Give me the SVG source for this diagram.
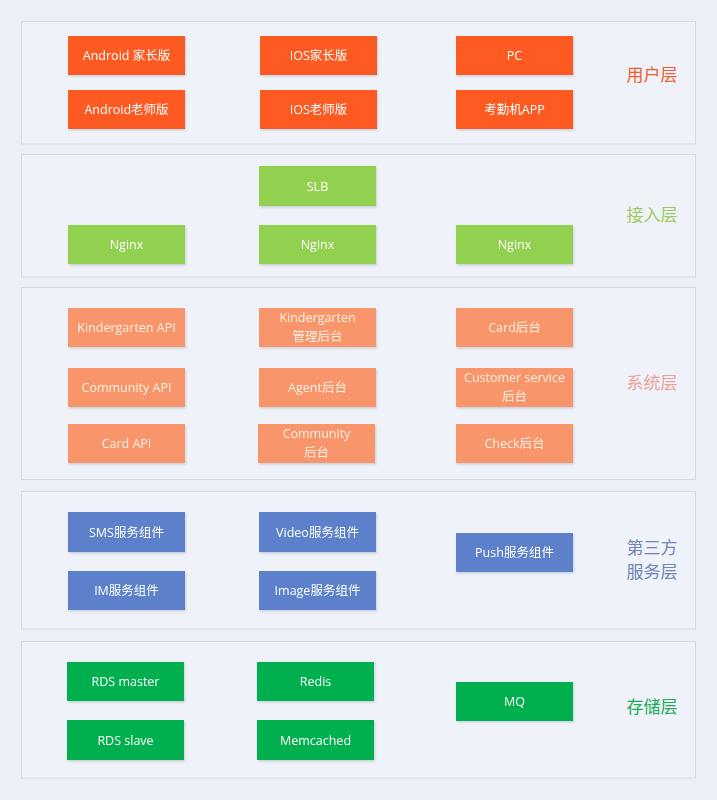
<svg xmlns="http://www.w3.org/2000/svg" width="717" height="800" viewBox="0 0 717 800">
<defs>
<filter id="sh" x="-10%" y="-10%" width="125%" height="130%">
<feDropShadow dx="1" dy="1.5" stdDeviation="1.2" flood-color="#8090a8" flood-opacity="0.35"/>
</filter>
</defs>
<style>
.layer{fill:#eff2f8;stroke:#d3d9e2;stroke-width:1}
.n{filter:url(#sh)}
.t{font-family:"Open Sans","Noto Sans CJK SC",sans-serif;font-size:12.5px;text-anchor:middle;fill:#ffffff}
.ts{fill:#fff1e4}
.lbl{font-family:"Noto Sans CJK SC",sans-serif;font-size:17px;text-anchor:middle}
.u{fill:#fd5a22}
.a{fill:#92d050}
.s{fill:#f9956a}
.b{fill:#5b80c9}
.g{fill:#00b050}
</style>
<rect width="717" height="800" fill="#eceff5"/>
<g id="layers">
<rect id="layer-user" class="layer" x="21.5" y="21.5" width="674" height="122.5"/>
<rect id="layer-access" class="layer" x="21.5" y="154.5" width="674" height="122.5"/>
<rect id="layer-system" class="layer" x="21.5" y="287.5" width="674" height="192"/>
<rect id="layer-third" class="layer" x="21.5" y="491.5" width="674" height="137.5"/>
<rect id="layer-storage" class="layer" x="21.5" y="641.5" width="674" height="136.5"/>
</g>
<g id="layer-labels">
<text class="lbl" x="652" y="81" fill="#ee5c30">用户层</text>
<text class="lbl" x="652" y="221" fill="#9ccc5c">接入层</text>
<text class="lbl" x="652" y="389" fill="#eea09a">系统层</text>
<text class="lbl" x="652" y="554" fill="#6f86b6">第三方</text>
<text class="lbl" x="652" y="578" fill="#6f86b6">服务层</text>
<text class="lbl" x="652" y="713" fill="#1aae58">存储层</text>
</g>
<g id="connectors"></g>
<g id="n-android-parent" class="n"><rect class="u" x="68" y="36" width="117" height="39"/><text class="t" x="126.5" y="60">Android 家长版</text></g>
<g id="n-ios-parent" class="n"><rect class="u" x="260" y="36" width="117" height="39"/><text class="t" x="318.5" y="60">IOS家长版</text></g>
<g id="n-pc" class="n"><rect class="u" x="456" y="36" width="117" height="39"/><text class="t" x="514.5" y="60">PC</text></g>
<g id="n-android-teacher" class="n"><rect class="u" x="68" y="90" width="117" height="39"/><text class="t" x="126.5" y="114">Android老师版</text></g>
<g id="n-ios-teacher" class="n"><rect class="u" x="260" y="90" width="117" height="39"/><text class="t" x="318.5" y="114">IOS老师版</text></g>
<g id="n-attendance" class="n"><rect class="u" x="456" y="90" width="117" height="39"/><text class="t" x="514.5" y="114">考勤机APP</text></g>

<g id="n-slb" class="n"><rect class="a" x="259" y="166" width="117" height="40"/><text class="t" x="317.5" y="190.5">SLB</text></g>
<g id="n-nginx1" class="n"><rect class="a" x="68" y="225" width="117" height="39"/><text class="t" x="126.5" y="249">Nginx</text></g>
<g id="n-nginx2" class="n"><rect class="a" x="259" y="225" width="117" height="39"/><text class="t" x="317.5" y="249">Nginx</text></g>
<g id="n-nginx3" class="n"><rect class="a" x="456" y="225" width="117" height="39"/><text class="t" x="514.5" y="249">Nginx</text></g>

<g id="n-kg-api" class="n"><rect class="s" x="68" y="308" width="117" height="39"/><text class="t ts" x="126.5" y="332">Kindergarten API</text></g>
<g id="n-kg-admin" class="n"><rect class="s" x="259" y="308" width="117" height="39"/><text class="t ts" x="317.5" y="322">Kindergarten</text><text class="t ts" x="317.5" y="341">管理后台</text></g>
<g id="n-card-admin" class="n"><rect class="s" x="456" y="308" width="117" height="39"/><text class="t ts" x="514.5" y="332">Card后台</text></g>
<g id="n-community-api" class="n"><rect class="s" x="68" y="368" width="117" height="39"/><text class="t ts" x="126.5" y="392">Community API</text></g>
<g id="n-agent-admin" class="n"><rect class="s" x="259" y="368" width="117" height="39"/><text class="t ts" x="317.5" y="392">Agent后台</text></g>
<g id="n-cs-admin" class="n"><rect class="s" x="456" y="368" width="117" height="39"/><text class="t ts" x="514.5" y="382">Customer service</text><text class="t ts" x="514.5" y="401">后台</text></g>
<g id="n-card-api" class="n"><rect class="s" x="68" y="424" width="117" height="39"/><text class="t ts" x="126.5" y="448">Card API</text></g>
<g id="n-community-admin" class="n"><rect class="s" x="258" y="424" width="117" height="39"/><text class="t ts" x="316.5" y="438">Community</text><text class="t ts" x="316.5" y="457">后台</text></g>
<g id="n-check-admin" class="n"><rect class="s" x="456" y="424" width="117" height="39"/><text class="t ts" x="514.5" y="448">Check后台</text></g>

<g id="n-sms" class="n"><rect class="b" x="68" y="512" width="117" height="40"/><text class="t" x="126.5" y="536.5">SMS服务组件</text></g>
<g id="n-video" class="n"><rect class="b" x="259" y="512" width="117" height="40"/><text class="t" x="317.5" y="536.5">Video服务组件</text></g>
<g id="n-push" class="n"><rect class="b" x="456" y="533" width="117" height="39"/><text class="t" x="514.5" y="557">Push服务组件</text></g>
<g id="n-im" class="n"><rect class="b" x="68" y="571" width="117" height="39"/><text class="t" x="126.5" y="595">IM服务组件</text></g>
<g id="n-image" class="n"><rect class="b" x="259" y="571" width="117" height="39"/><text class="t" x="317.5" y="595">Image服务组件</text></g>

<g id="n-rds-master" class="n"><rect class="g" x="67" y="662" width="117" height="39"/><text class="t" x="125.5" y="686">RDS master</text></g>
<g id="n-redis" class="n"><rect class="g" x="257" y="662" width="117" height="39"/><text class="t" x="315.5" y="686">Redis</text></g>
<g id="n-mq" class="n"><rect class="g" x="456" y="682" width="117" height="39"/><text class="t" x="514.5" y="706">MQ</text></g>
<g id="n-rds-slave" class="n"><rect class="g" x="67" y="720" width="117" height="40"/><text class="t" x="125.5" y="744.5">RDS slave</text></g>
<g id="n-memcached" class="n"><rect class="g" x="257" y="720" width="117" height="40"/><text class="t" x="315.5" y="744.5">Memcached</text></g>
</svg>
